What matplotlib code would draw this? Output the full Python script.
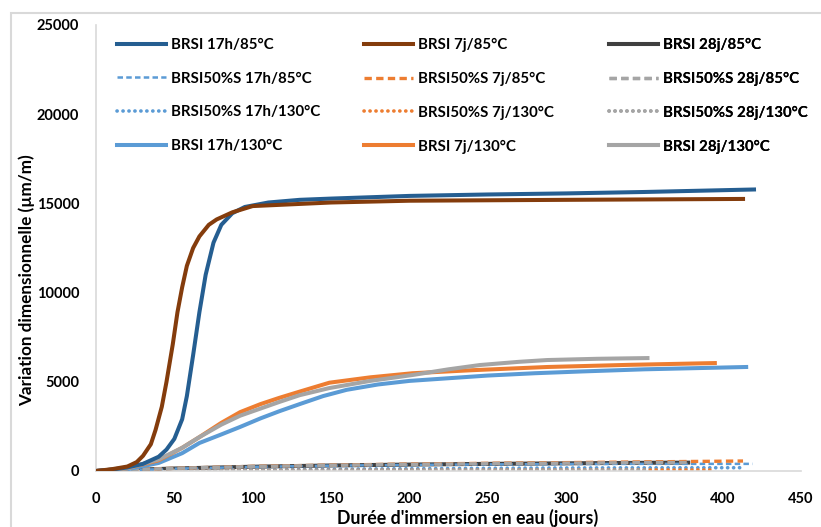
import matplotlib.pyplot as plt
from matplotlib.patches import Rectangle

plt.rcParams['font.family'] = ['Lato', 'DejaVu Sans']
plt.rcParams['font.weight'] = 'bold'

# BRSI 17h/85°C
j_17h_85 = [0, 10, 20, 30, 40, 45, 50, 55, 58, 62, 66, 70, 75, 80, 87, 95, 110, 130, 150, 200, 250, 300, 350, 420]
v_17h_85 = [0, 80, 200, 400, 800, 1200, 1800, 2900, 4200, 6500, 8900, 11000, 12800, 13800, 14450, 14800, 15050, 15200, 15270, 15420, 15500, 15560, 15640, 15780]
# BRSI 7j/85°C
j_7j_85 = [0, 10, 20, 26, 30, 35, 38, 42, 45, 49, 52, 55, 58, 62, 66, 72, 77, 87, 100, 150, 200, 300, 413]
v_7j_85 = [0, 100, 250, 500, 850, 1500, 2300, 3600, 5000, 7100, 8900, 10300, 11500, 12500, 13150, 13800, 14100, 14500, 14850, 15050, 15150, 15200, 15250]
# BRSI 28j/85°C
j_28j_85 = [0, 25, 50, 100, 150, 200, 250, 300, 350, 378]
v_28j_85 = [0, 70, 140, 240, 310, 360, 400, 430, 460, 470]

# BRSI50%S .../85°C
j_s17h_85 = [0, 25, 50, 100, 150, 200, 250, 300, 350, 419]
v_s17h_85 = [0, 60, 130, 230, 300, 340, 370, 390, 400, 400]
j_s7j_85 = [0, 25, 50, 100, 150, 200, 250, 300, 350, 413]
v_s7j_85 = [0, 80, 150, 260, 330, 390, 430, 470, 510, 560]
j_s28j_85 = [0, 25, 50, 100, 150, 200, 250, 300, 350, 378]
v_s28j_85 = [0, 80, 150, 250, 320, 370, 410, 440, 470, 480]

# BRSI50%S .../130°C
j_s17h_130 = [0, 50, 100, 200, 300, 412]
v_s17h_130 = [0, 40, 80, 130, 170, 185]
j_s7j_130 = [0, 50, 100, 200, 300, 394]
v_s7j_130 = [0, 20, 40, 50, 60, 60]
j_s28j_130 = [0, 50, 100, 200, 300, 350]
v_s28j_130 = [0, 20, 30, 40, 50, 50]

# BRSI .../130°C
j_17h_130 = [0, 20, 40, 55, 66, 80, 92, 105, 117, 130, 145, 160, 180, 200, 225, 250, 280, 310, 350, 415]
v_17h_130 = [0, 100, 450, 1000, 1570, 2050, 2470, 2950, 3350, 3750, 4200, 4550, 4850, 5050, 5200, 5350, 5480, 5580, 5700, 5830]
j_7j_130 = [0, 20, 40, 55, 66, 80, 92, 105, 117, 130, 149, 175, 202, 240, 288, 340, 395]
v_7j_130 = [0, 150, 600, 1300, 1900, 2700, 3300, 3750, 4100, 4450, 4950, 5250, 5480, 5650, 5830, 5950, 6050]
j_28j_130 = [0, 20, 40, 55, 66, 80, 92, 105, 117, 130, 149, 175, 202, 225, 245, 270, 288, 320, 352]
v_28j_130 = [0, 150, 650, 1300, 1900, 2600, 3100, 3500, 3870, 4250, 4650, 5050, 5380, 5700, 5940, 6120, 6220, 6290, 6330]

bleu_f = '#255E91'
brun = '#843C0C'
gris_f = '#404040'
bleu = '#5B9BD5'
orange = '#ED7D31'
gris = '#A5A5A5'

fig = plt.figure(figsize=(8.21, 5.27), dpi=100)
# cadre gris du graphique (coupé en bas et à droite)
fig.patches.append(Rectangle((11/821, -0.5), 2, 1.5 - 13/527, transform=fig.transFigure,
                             fill=False, edgecolor='#D9D9D9', lw=1.5))
ax = fig.add_axes([96/821, 1 - 471/527, 705/821, 446/527])

tirets = (0, (2.2, 1.3))
points = (0, (0.05, 1.6))

colonnes = [
	[(j_17h_85, v_17h_85, bleu_f, '-', 2.9, 'BRSI 17h/85°C', 5),
	 (j_s17h_85, v_s17h_85, bleu, tirets, 1.8, 'BRSI50%S 17h/85°C', 3),
	 (j_s17h_130, v_s17h_130, bleu, points, 2.6, 'BRSI50%S 17h/130°C', 2),
	 (j_17h_130, v_17h_130, bleu, '-', 2.9, 'BRSI 17h/130°C', 4)],
	[(j_7j_85, v_7j_85, brun, '-', 2.9, 'BRSI 7j/85°C', 6),
	 (j_s7j_85, v_s7j_85, orange, tirets, 2.4, 'BRSI50%S 7j/85°C', 3),
	 (j_s7j_130, v_s7j_130, orange, points, 2.6, 'BRSI50%S 7j/130°C', 2),
	 (j_7j_130, v_7j_130, orange, '-', 2.9, 'BRSI 7j/130°C', 4)],
	[(j_28j_85, v_28j_85, gris_f, '-', 2.9, 'BRSI 28j/85°C', 1),
	 (j_s28j_85, v_s28j_85, gris, tirets, 2.4, 'BRSI50%S 28j/85°C', 3),
	 (j_s28j_130, v_s28j_130, gris, points, 2.6, 'BRSI50%S 28j/130°C', 2),
	 (j_28j_130, v_28j_130, gris, '-', 2.9, 'BRSI 28j/130°C', 4)],
]

x_leg = [110, 357, 602]
for k, col in enumerate(colonnes):
	handles = []
	for j, v, c, ls, lw, lab, z in col:
		ligne, = ax.plot(j, v, color=c, ls=ls, lw=lw, label=lab, zorder=z,
		                 dash_capstyle='round' if ls == points else 'butt')
		handles.append(ligne)
	leg = ax.legend(handles=handles, loc='upper left', frameon=False,
	                bbox_to_anchor=((x_leg[k] - 96) / 705, 1 - 6 / 446),
	                fontsize=10.8, handlelength=3.3, handletextpad=0.3,
	                labelspacing=1.32, borderaxespad=0.15, borderpad=0.3)
	ax.add_artist(leg)

ax.set_xlim(0, 450)
ax.set_ylim(0, 25000)
ax.set_xticks(range(0, 451, 50))
ax.set_yticks(range(0, 25001, 5000))
for s in ['top', 'right']:
	ax.spines[s].set_visible(False)
for s in ['left', 'bottom']:
	ax.spines[s].set_color('#D9D9D9')
	ax.spines[s].set_linewidth(1.2)
ax.tick_params(length=0, labelsize=10.5)
ax.tick_params(axis='y', pad=12)
ax.tick_params(axis='x', pad=15)

ax.set_xlabel("Durée d'immersion en eau (jours)", fontsize=12.8, fontweight='bold')
ax.set_ylabel('Variation dimensionnelle (µm/m)', fontsize=12.3, fontweight='bold')
ax.xaxis.set_label_coords((468 - 96) / 705, -38 / 446)
ax.yaxis.set_label_coords(-61 / 705, (471 - 280) / 446)

plt.savefig('out.png', dpi=100)
